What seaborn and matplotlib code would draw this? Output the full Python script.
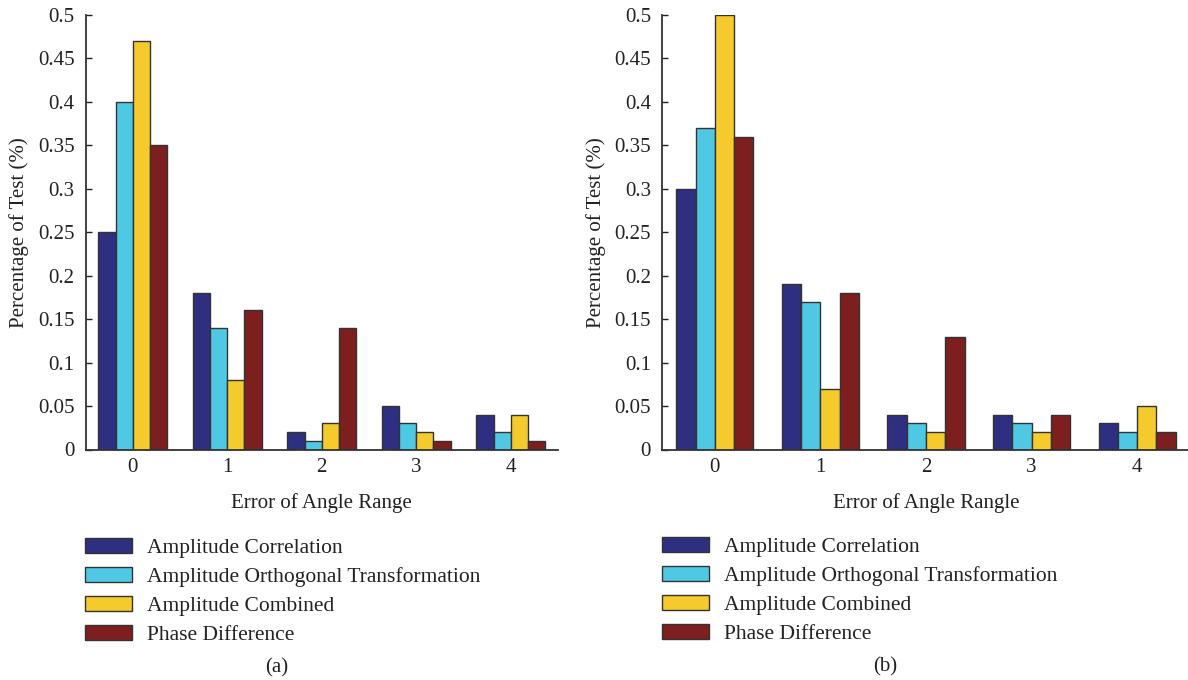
import matplotlib
matplotlib.use("Agg")
import matplotlib.pyplot as plt
import seaborn as sns
import pandas as pd
from matplotlib.ticker import FuncFormatter, MultipleLocator

# Error categories on the x axis
categories = ["0", "1", "2", "3", "4"]
methods = [
    "Amplitude Correlation",
    "Amplitude Orthogonal Transformation",
    "Amplitude Combined",
    "Phase Difference",
]

# Panel (a)
amp_corr_a = [0.25, 0.18, 0.02, 0.05, 0.04]
amp_orth_a = [0.40, 0.14, 0.01, 0.03, 0.02]
amp_comb_a = [0.47, 0.08, 0.03, 0.02, 0.04]
phase_diff_a = [0.35, 0.16, 0.14, 0.01, 0.01]

# Panel (b)
amp_corr_b = [0.30, 0.19, 0.04, 0.04, 0.03]
amp_orth_b = [0.37, 0.17, 0.03, 0.03, 0.02]
amp_comb_b = [0.50, 0.07, 0.02, 0.02, 0.05]
phase_diff_b = [0.36, 0.18, 0.13, 0.04, 0.02]

colors = ["#2E2F80", "#4FC8E4", "#F5CA2C", "#7E1F1F"]
ink = "#222222"

sns.set_theme(style="white")
plt.rcParams["font.family"] = ["Liberation Serif", "DejaVu Serif"]
plt.rcParams["font.size"] = 15
plt.rcParams["text.color"] = ink


def long_frame(series):
    rows = []
    for name, vals in zip(methods, series):
        for cat, v in zip(categories, vals):
            rows.append({"category": cat, "method": name, "value": v})
    return pd.DataFrame(rows)


def tick_fmt(v, _):
    if abs(v) < 1e-9:
        return "0"
    return f"{v:.2f}".rstrip("0").rstrip(".")


fig = plt.figure(figsize=(11.88, 6.8), dpi=100)
W, H = 1188, 680

panels = [
    dict(series=[amp_corr_a, amp_orth_a, amp_comb_a, phase_diff_a],
         rect=[85.5 / W, 1 - 449.5 / H, 472.5 / W, 434.5 / H],
         xlabel="Error of Angle Range",
         legend_xy=(85 / W, 1 - 538 / H),
         caption="(a)", caption_xy=(277 / W, 1 - 668 / H)),
    dict(series=[amp_corr_b, amp_orth_b, amp_comb_b, phase_diff_b],
         rect=[662 / W, 1 - 449.5 / H, 528 / W, 434.5 / H],
         xlabel="Error of Angle Rangle",
         legend_xy=(662 / W, 1 - 537 / H),
         caption="(b)", caption_xy=(885 / W, 1 - 667 / H)),
]

for p in panels:
    ax = fig.add_axes(p["rect"])
    df = long_frame(p["series"])
    sns.barplot(data=df, x="category", y="value", hue="method",
                hue_order=methods, palette=colors, width=0.73, gap=0,
                edgecolor="#333333", linewidth=1.0, saturation=1,
                legend=False, ax=ax)
    ax.set_xlim(-0.5, 4.5)
    ax.set_ylim(0, 0.5)
    ax.yaxis.set_major_locator(MultipleLocator(0.05))
    ax.yaxis.set_major_formatter(FuncFormatter(tick_fmt))
    ax.set_xlabel(p["xlabel"], fontsize=15, labelpad=12, color=ink)
    ax.set_ylabel("Percentage of Test (%)", fontsize=15, labelpad=6, color=ink)
    ax.tick_params(axis="y", direction="in", length=4, width=1, left=True,
                   labelsize=15, colors=ink, pad=8)
    ax.tick_params(axis="x", direction="in", length=0, labelsize=15,
                   colors=ink, pad=6)
    sns.despine(ax=ax)
    for side in ("left", "bottom"):
        ax.spines[side].set_color("#333333")
        ax.spines[side].set_linewidth(1.3)

    handles = [plt.Rectangle((0, 0), 1, 1, facecolor=c, edgecolor="#333333", linewidth=1.0)
               for c in colors]
    fig.legend(handles, methods, loc="upper left", bbox_to_anchor=p["legend_xy"],
               frameon=False, fontsize=15.5, handlelength=2.2, handleheight=0.7,
               handletextpad=0.7, labelspacing=0.41, borderpad=0, borderaxespad=0)
    fig.text(*p["caption_xy"], p["caption"], ha="center", va="center", fontsize=15)

fig.savefig("out.png", dpi=100, facecolor="white")
